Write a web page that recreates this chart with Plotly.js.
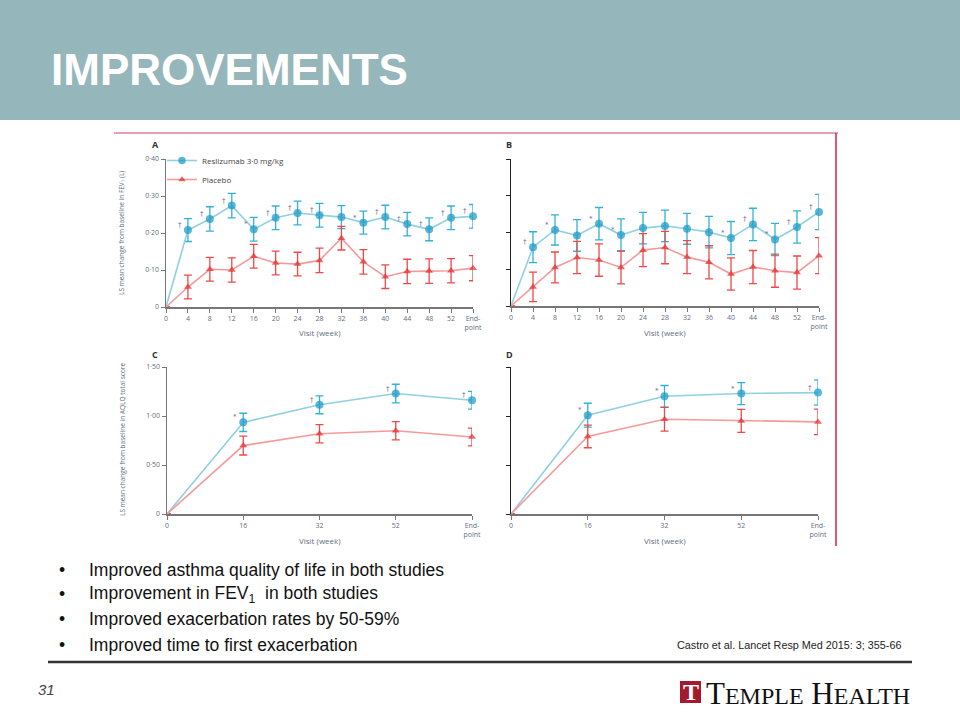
<!DOCTYPE html>
<html>
<head>
<meta charset="utf-8">
<script src="https://cdn.plot.ly/plotly-3.0.1.min.js"></script>
<style>html,body{margin:0;padding:0;background:#fff;}#chart{width:960px;height:720px;}</style>
</head>
<body>
<div id="chart"></div>
<script>
// ---------------- DATA ----------------
const fevVisits = ['0','4','8','12','16','20','24','28','32','36','40','44','48','52','End-<br>point'];
const aqlqVisits = ['0','16','32','52','End-<br>point'];

const resFevA    = [0, 0.208, 0.238, 0.274, 0.210, 0.241, 0.254, 0.248, 0.243, 0.228, 0.243, 0.224, 0.210, 0.241, 0.245];
const resFevAErr = [null, 0.031, 0.033, 0.033, 0.032, 0.032, 0.032, 0.032, 0.031, 0.031, 0.032, 0.032, 0.031, 0.032, 0.032];
const plaFevA    = [0, 0.054, 0.102, 0.100, 0.137, 0.119, 0.116, 0.126, 0.186, 0.122, 0.082, 0.096, 0.097, 0.098, 0.105];
const plaFevAErr = [null, 0.032, 0.032, 0.033, 0.032, 0.032, 0.032, 0.033, 0.032, 0.033, 0.032, 0.033, 0.033, 0.033, 0.034];
const sigFevA    = ['', '†', '†', '†', '*', '†', '†', '†', '', '*', '†', '†', '†', '†', '†'];

const resFevB    = [0, 0.160, 0.207, 0.192, 0.224, 0.193, 0.212, 0.218, 0.210, 0.201, 0.185, 0.222, 0.181, 0.215, 0.256];
const resFevBErr = [null, 0.042, 0.041, 0.043, 0.044, 0.044, 0.043, 0.043, 0.042, 0.043, 0.045, 0.044, 0.044, 0.044, 0.048];
const plaFevB    = [0, 0.052, 0.105, 0.132, 0.125, 0.105, 0.152, 0.159, 0.133, 0.119, 0.087, 0.106, 0.096, 0.091, 0.137];
const plaFevBErr = [null, 0.040, 0.042, 0.044, 0.044, 0.045, 0.045, 0.044, 0.045, 0.045, 0.044, 0.045, 0.045, 0.045, 0.049];
const sigFevB    = ['', '†', '*', '', '*', '*', '', '', '', '', '*', '†', '*', '†', '†'];

const resAqlqC    = [0, 0.935, 1.114, 1.229, 1.161];
const resAqlqCErr = [null, 0.093, 0.091, 0.095, 0.091];
const plaAqlqC    = [0, 0.698, 0.819, 0.850, 0.786];
const plaAqlqCErr = [null, 0.096, 0.093, 0.093, 0.091];
const sigAqlqC    = ['', '*', '†', '†', '†'];

const resAqlqD    = [0, 1.008, 1.201, 1.229, 1.239];
const resAqlqDErr = [null, 0.122, 0.110, 0.112, 0.129];
const plaAqlqD    = [0, 0.791, 0.967, 0.950, 0.940];
const plaAqlqDErr = [null, 0.115, 0.122, 0.117, 0.131];
const sigAqlqD    = ['', '*', '*', '*', '†'];

const fevTickVals  = [0, 0.1, 0.2, 0.3, 0.4];
const fevTickText  = ['0', '0·10', '0·20', '0·30', '0·40'];
const aqlqTickVals = [0, 0.5, 1.0, 1.5];
const aqlqTickText = ['0', '0·50', '1·00', '1·50'];

const seriesNames = ['Reslizumab 3·0 mg/kg', 'Placebo'];

const bullets = [
  'Improved asthma quality of life in both studies',
  'Improvement in FEV<sub>1</sub>  in both studies',
  'Improved exacerbation rates by 50-59%',
  'Improved time to first exacerbation'
];

// ---------------- STYLE ----------------
const RES_LINE = '#8fd0e2', RES_MK = '#1797c3', RES_ERR = '#33b2d8';
const PLA_LINE = '#f49a9a', PLA_MK = '#e32a2a', PLA_ERR = '#ec4a4a';
const TICK_COL = '#5f6f80';
const px = x => x / 960;
const py = y => 1 - y / 720;

function series(xs, ys, errs, xa, ya, isRes, showLegend, name) {
  return {
    type: 'scatter', mode: 'lines+markers', x: xs, y: ys, xaxis: xa, yaxis: ya,
    name: name, showlegend: showLegend, cliponaxis: false,
    line: {color: isRes ? RES_LINE : PLA_LINE, width: 1.6},
    marker: {
      symbol: isRes ? 'circle' : 'triangle-up',
      size: ys.map((v, i) => i === 0 ? 0 : (isRes ? 8 : 7)),
      color: isRes ? RES_MK : PLA_MK, line: {width: 0}
    },
    error_y: {type: 'data', array: errs, visible: true, color: isRes ? RES_ERR : PLA_ERR, thickness: 1.3, width: 4}
  };
}

const traces = [
  series(fevVisits, resFevA, resFevAErr, 'x', 'y', true, true, seriesNames[0]),
  series(fevVisits, plaFevA, plaFevAErr, 'x', 'y', false, true, seriesNames[1]),
  series(fevVisits, resFevB, resFevBErr, 'x2', 'y2', true, false, seriesNames[0]),
  series(fevVisits, plaFevB, plaFevBErr, 'x2', 'y2', false, false, seriesNames[1]),
  series(aqlqVisits, resAqlqC, resAqlqCErr, 'x3', 'y3', true, false, seriesNames[0]),
  series(aqlqVisits, plaAqlqC, plaAqlqCErr, 'x3', 'y3', false, false, seriesNames[1]),
  series(aqlqVisits, resAqlqD, resAqlqDErr, 'x4', 'y4', true, false, seriesNames[0]),
  series(aqlqVisits, plaAqlqD, plaAqlqDErr, 'x4', 'y4', false, false, seriesNames[1])
];

function xAxis(cats, d0, d1, anchor) {
  return {
    type: 'category', domain: [px(d0), px(d1)], range: [0, cats.length - 1], anchor: anchor,
    showline: true, linecolor: '#777', linewidth: 1.5, ticks: 'outside', ticklen: 4, tickcolor: '#777',
    showgrid: false, zeroline: false, fixedrange: true,
    tickfont: {family: 'Open Sans, sans-serif', size: 7, color: TICK_COL}
  };
}
function yAxis(b, t, range, tv, tt, anchor, labels, col) {
  return {
    domain: [py(b), py(t)], range: range, anchor: anchor,
    showline: true, linecolor: col, linewidth: 1.5, ticks: 'outside', ticklen: 4, tickcolor: col,
    tickvals: tv, ticktext: tt, showticklabels: labels,
    showgrid: false, zeroline: false, fixedrange: true,
    tickfont: {family: 'Open Sans, sans-serif', size: 7, color: TICK_COL}
  };
}

const annotations = [];
function sigMarks(ys, sig, xa, ya) {
  sig.forEach((s, i) => {
    if (!s) return;
    annotations.push({xref: xa, yref: ya, x: i, y: ys[i], text: s, showarrow: false,
      xshift: -8, yshift: 5, font: {family: 'DejaVu Sans, sans-serif', size: 7, color: '#7a6a8c'}});
  });
}
sigMarks(resFevA, sigFevA, 'x', 'y');
sigMarks(resFevB, sigFevB, 'x2', 'y2');
sigMarks(resAqlqC, sigAqlqC, 'x3', 'y3');
sigMarks(resAqlqD, sigAqlqD, 'x4', 'y4');

function paperText(x, y, text, opts) {
  annotations.push(Object.assign({xref: 'paper', yref: 'paper', x: px(x), y: py(y), text: text,
    showarrow: false, xanchor: 'left', yanchor: 'middle'}, opts));
}
const panelFont = {family: 'Open Sans, sans-serif', size: 9, color: '#333'};
paperText(150, 145, '<b>A</b>', {font: panelFont});
paperText(504, 145, '<b>B</b>', {font: panelFont});
paperText(150, 354, '<b>C</b>', {font: panelFont});
paperText(504, 354, '<b>D</b>', {font: panelFont});

const axTitleFont = {family: 'Open Sans, sans-serif', size: 8, color: TICK_COL};
paperText(320, 332, 'Visit (week)', {font: axTitleFont, xanchor: 'center'});
paperText(665, 332, 'Visit (week)', {font: axTitleFont, xanchor: 'center'});
paperText(320, 540, 'Visit (week)', {font: axTitleFont, xanchor: 'center'});
paperText(665, 540, 'Visit (week)', {font: axTitleFont, xanchor: 'center'});
const yTitleFont = {family: 'Open Sans, sans-serif', size: 6.5, color: TICK_COL};
paperText(122, 233, 'LS mean change from baseline in FEV<sub>1</sub> (L)', {font: yTitleFont, xanchor: 'center', textangle: -90});
paperText(122, 440, 'LS mean change from baseline in AQLQ total score', {font: yTitleFont, xanchor: 'center', textangle: -90});

// Slide text
paperText(49, 70, '<b>IMPROVEMENTS</b>', {font: {family: 'Liberation Sans, Arial, sans-serif', size: 44, color: '#ffffff'}});
const bulletFont = {family: 'Liberation Sans, Arial, sans-serif', size: 17.5, color: '#111'};
const bulletY = [570, 594, 619, 645];
bullets.forEach((b, i) => {
  paperText(57, bulletY[i], '•', {font: bulletFont});
  paperText(87, bulletY[i], b, {font: bulletFont});
});
paperText(675, 645, 'Castro et al. Lancet Resp Med 2015: 3; 355-66', {font: {family: 'Liberation Sans, Arial, sans-serif', size: 10.8, color: '#222'}});
paperText(36, 689, '<i>31</i>', {font: {family: 'Liberation Sans, Arial, sans-serif', size: 15, color: '#444'}});
paperText(704, 693, 'T<span style="font-size:24px">EMPLE</span> H<span style="font-size:24px">EALTH</span>',
  {font: {family: 'Liberation Serif, Times New Roman, serif', size: 31, color: '#111'}});
paperText(690.5, 692, '<b>T</b>', {xanchor: 'center', font: {family: 'Liberation Serif, serif', size: 24, color: '#ffffff'}});

const shapes = [
  {type: 'rect', xref: 'paper', yref: 'paper', x0: 0, x1: 1, y0: py(120), y1: 1, fillcolor: '#95b6ba', line: {width: 0}, layer: 'below'},
  {type: 'line', xref: 'paper', yref: 'paper', x0: px(114), x1: px(838), y0: py(133), y1: py(133), line: {color: '#e2a2b4', width: 2}},
  {type: 'line', xref: 'paper', yref: 'paper', x0: px(836), x1: px(836), y0: py(133), y1: py(546), line: {color: '#d02545', width: 1.5}},
  {type: 'line', xref: 'paper', yref: 'paper', x0: px(48), x1: px(912), y0: py(662), y1: py(662), line: {color: '#333', width: 2.5}},
  {type: 'rect', xref: 'paper', yref: 'paper', x0: px(680), x1: px(701), y0: py(703), y1: py(681), fillcolor: '#a3192e', line: {width: 0}}
];

const layout = {
  width: 960, height: 720, margin: {l: 0, r: 0, t: 0, b: 0},
  paper_bgcolor: '#ffffff', plot_bgcolor: 'rgba(0,0,0,0)',
  showlegend: true,
  legend: {x: px(162), y: py(146), xanchor: 'left', yanchor: 'top', bgcolor: 'rgba(0,0,0,0)',
    font: {family: 'Open Sans, sans-serif', size: 8, color: '#444'}, tracegroupgap: 0, itemwidth: 30},
  xaxis:  xAxis(fevVisits, 166, 473, 'y'),
  yaxis:  yAxis(307, 159, [0, 0.4], fevTickVals, fevTickText, 'x', true, '#777'),
  xaxis2: xAxis(fevVisits, 511, 819, 'y2'),
  yaxis2: yAxis(306, 159, [0, 0.4], fevTickVals, fevTickText, 'x2', false, '#222'),
  xaxis3: xAxis(aqlqVisits, 167, 472, 'y3'),
  yaxis3: yAxis(514, 367, [0, 1.5], aqlqTickVals, aqlqTickText, 'x3', true, '#777'),
  xaxis4: xAxis(aqlqVisits, 511, 818, 'y4'),
  yaxis4: yAxis(514, 367, [0, 1.5], aqlqTickVals, aqlqTickText, 'x4', false, '#222'),
  annotations: annotations,
  shapes: shapes
};

Plotly.newPlot('chart', traces, layout, {staticPlot: true, displayModeBar: false});
</script>
</body>
</html>
